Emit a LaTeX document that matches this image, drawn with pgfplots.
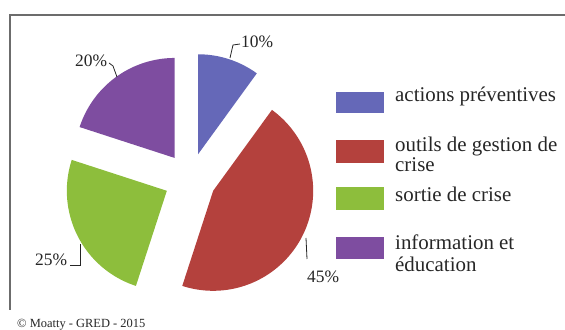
\documentclass[border=0pt]{standalone}
\usepackage{fontspec}
\setmainfont{Liberation Serif}
\usepackage{pgfplots}
\usepackage{pgfplotstable}
\pgfplotsset{compat=1.18}
\definecolor{cA}{HTML}{6568B8}
\definecolor{cB}{HTML}{B4413D}
\definecolor{cC}{HTML}{8DBE3C}
\definecolor{cD}{HTML}{7E4DA0}
\definecolor{txt}{HTML}{262626}
\pgfplotstableread{
share
10
45
25
20
}\piedata
\begin{document}
\begin{tikzpicture}
\pgfplotstablegetelem{0}{share}\of\piedata \let\vA\pgfplotsretval
\pgfplotstablegetelem{1}{share}\of\piedata \let\vB\pgfplotsretval
\pgfplotstablegetelem{2}{share}\of\piedata \let\vC\pgfplotsretval
\pgfplotstablegetelem{3}{share}\of\piedata \let\vD\pgfplotsretval
\def\cx{1.90}\def\cy{-1.79}\def\ex{0.26}
\pgfmathsetmacro{\sA}{90}
\pgfmathsetmacro{\eA}{\sA-3.6*\vA}
\pgfmathsetmacro{\sB}{\eA}
\pgfmathsetmacro{\eB}{\sB-3.6*\vB}
\pgfmathsetmacro{\sC}{\eB}
\pgfmathsetmacro{\eC}{\sC-3.6*\vC}
\pgfmathsetmacro{\sD}{\eC}
\pgfmathsetmacro{\eD}{\sD-3.6*\vD}
\pgfmathsetmacro{\xA}{\cx+\ex*cos((\sA+\eA)/2)}
\pgfmathsetmacro{\yA}{\cy+\ex*sin((\sA+\eA)/2)}
\pgfmathsetmacro{\xB}{\cx+\ex*cos((\sB+\eB)/2)}
\pgfmathsetmacro{\yB}{\cy+\ex*sin((\sB+\eB)/2)}
\pgfmathsetmacro{\xC}{\cx+\ex*cos((\sC+\eC)/2)}
\pgfmathsetmacro{\yC}{\cy+\ex*sin((\sC+\eC)/2)}
\pgfmathsetmacro{\xD}{\cx+\ex*cos((\sD+\eD)/2)}
\pgfmathsetmacro{\yD}{\cy+\ex*sin((\sD+\eD)/2)}
\begin{axis}[name=ax, at={(0,0)}, anchor=south west, x=100bp, y=100bp,
  xmin=0, xmax=5.65, ymin=-3.30, ymax=0, hide axis, clip=false, scale only axis]
\addplot[fill=cA, draw=none, domain=\eA:\sA, samples=60, variable=\t] ({\xA+cos(\t)},{\yA+sin(\t)}) -- (axis cs:\xA,\yA) -- cycle;
\addplot[fill=cB, draw=none, domain=\eB:\sB, samples=120, variable=\t] ({\xB+cos(\t)},{\yB+sin(\t)}) -- (axis cs:\xB,\yB) -- cycle;
\addplot[fill=cC, draw=none, domain=\eC:\sC, samples=80, variable=\t] ({\xC+cos(\t)},{\yC+sin(\t)}) -- (axis cs:\xC,\yC) -- cycle;
\addplot[fill=cD, draw=none, domain=\eD:\sD, samples=70, variable=\t] ({\xD+cos(\t)},{\yD+sin(\t)}) -- (axis cs:\xD,\yD) -- cycle;
% frame
\draw[gray!85!black, line width=1.2bp] (axis cs:5.65,-0.15) -- (axis cs:0.10,-0.15) -- (axis cs:0.10,-3.10);
% leaders
\draw[txt, line width=0.8bp] (axis cs:2.30,-0.58) -- (axis cs:2.33,-0.45) -- (axis cs:2.40,-0.44);
\draw[txt, line width=0.8bp] (axis cs:1.09,-0.63) -- (axis cs:1.13,-0.66) -- (axis cs:1.17,-0.77);
\draw[txt, line width=0.8bp] (axis cs:0.70,-2.65) -- (axis cs:0.80,-2.65) -- (axis cs:0.80,-2.44);
\draw[txt, line width=0.8bp] (axis cs:3.06,-2.38) -- (axis cs:3.07,-2.59);
% percent labels
\begin{scope}[every node/.style={inner sep=0pt, anchor=base west, text=txt, font=\fontsize{17.5}{19}\selectfont}]
\node at (axis cs:2.41,-0.48) {10\%};
\node at (axis cs:0.75,-0.67) {20\%};
\node at (axis cs:0.35,-2.66) {25\%};
\node at (axis cs:3.07,-2.83) {45\%};
\end{scope}
% legend
\fill[cA] (axis cs:3.36,-0.92) rectangle (axis cs:3.84,-1.13);
\fill[cB] (axis cs:3.36,-1.40) rectangle (axis cs:3.84,-1.63);
\fill[cC] (axis cs:3.36,-1.87) rectangle (axis cs:3.84,-2.10);
\fill[cD] (axis cs:3.36,-2.37) rectangle (axis cs:3.84,-2.59);
\begin{scope}[every node/.style={inner sep=0pt, anchor=base west, text=txt, font=\fontsize{21}{22}\selectfont}]
\node at (axis cs:3.95,-1.02) {actions préventives};
\node at (axis cs:3.95,-1.52) {outils de gestion de};
\node at (axis cs:3.95,-1.72) {crise};
\node at (axis cs:3.95,-2.02) {sortie de crise};
\node at (axis cs:3.95,-2.50) {information et};
\node at (axis cs:3.95,-2.72) {éducation};
\end{scope}
\node[inner sep=0pt, anchor=base west, text=txt, font=\fontsize{12.5}{13}\selectfont] at (axis cs:0.17,-3.27) {© Moatty - GRED - 2015};
\end{axis}
\pgfresetboundingbox
\path (0,0) rectangle (565bp,330bp);
\end{tikzpicture}
\end{document}
